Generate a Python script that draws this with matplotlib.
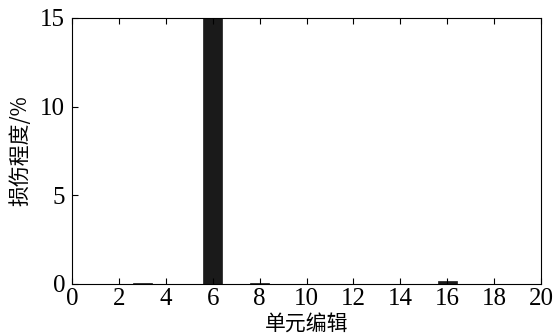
import matplotlib
matplotlib.use("Agg")
import matplotlib.pyplot as plt

# damage per element
elements = [3, 6, 8, 16]
damage = [0.08, 20.0, 0.08, 0.15]

plt.rcParams["font.family"] = ["Liberation Serif", "Noto Sans CJK SC"]
plt.rcParams["xtick.direction"] = "in"
plt.rcParams["ytick.direction"] = "in"

fig = plt.figure(figsize=(5.57, 3.36), dpi=100)
ax = fig.add_axes([72/557, 1 - 284/336, 469/557, 266/336])

ax.bar(elements, damage, width=0.8, color="#1a1a1a", edgecolor="#1a1a1a", linewidth=0.5)

ax.set_xlim(0, 20)
ax.set_ylim(0, 15)
ax.set_xticks(range(0, 21, 2))
ax.set_yticks([0, 5, 10, 15])
ax.tick_params(top=True, right=False, labelsize=18, length=4, width=0.8)
ax.tick_params(axis="y", pad=5)
ax.tick_params(axis="x", pad=3)
ax.get_xticklabels()[0].set_x(0.15)
for s in ax.spines.values():
    s.set_linewidth(0.8)

ax.set_xlabel("单元编辑", family="Noto Sans CJK SC", fontsize=15, labelpad=2)
ax.set_ylabel("损伤程度/%", family=["Noto Sans CJK SC"], fontsize=15, labelpad=6)

fig.savefig("out.png", dpi=100)
